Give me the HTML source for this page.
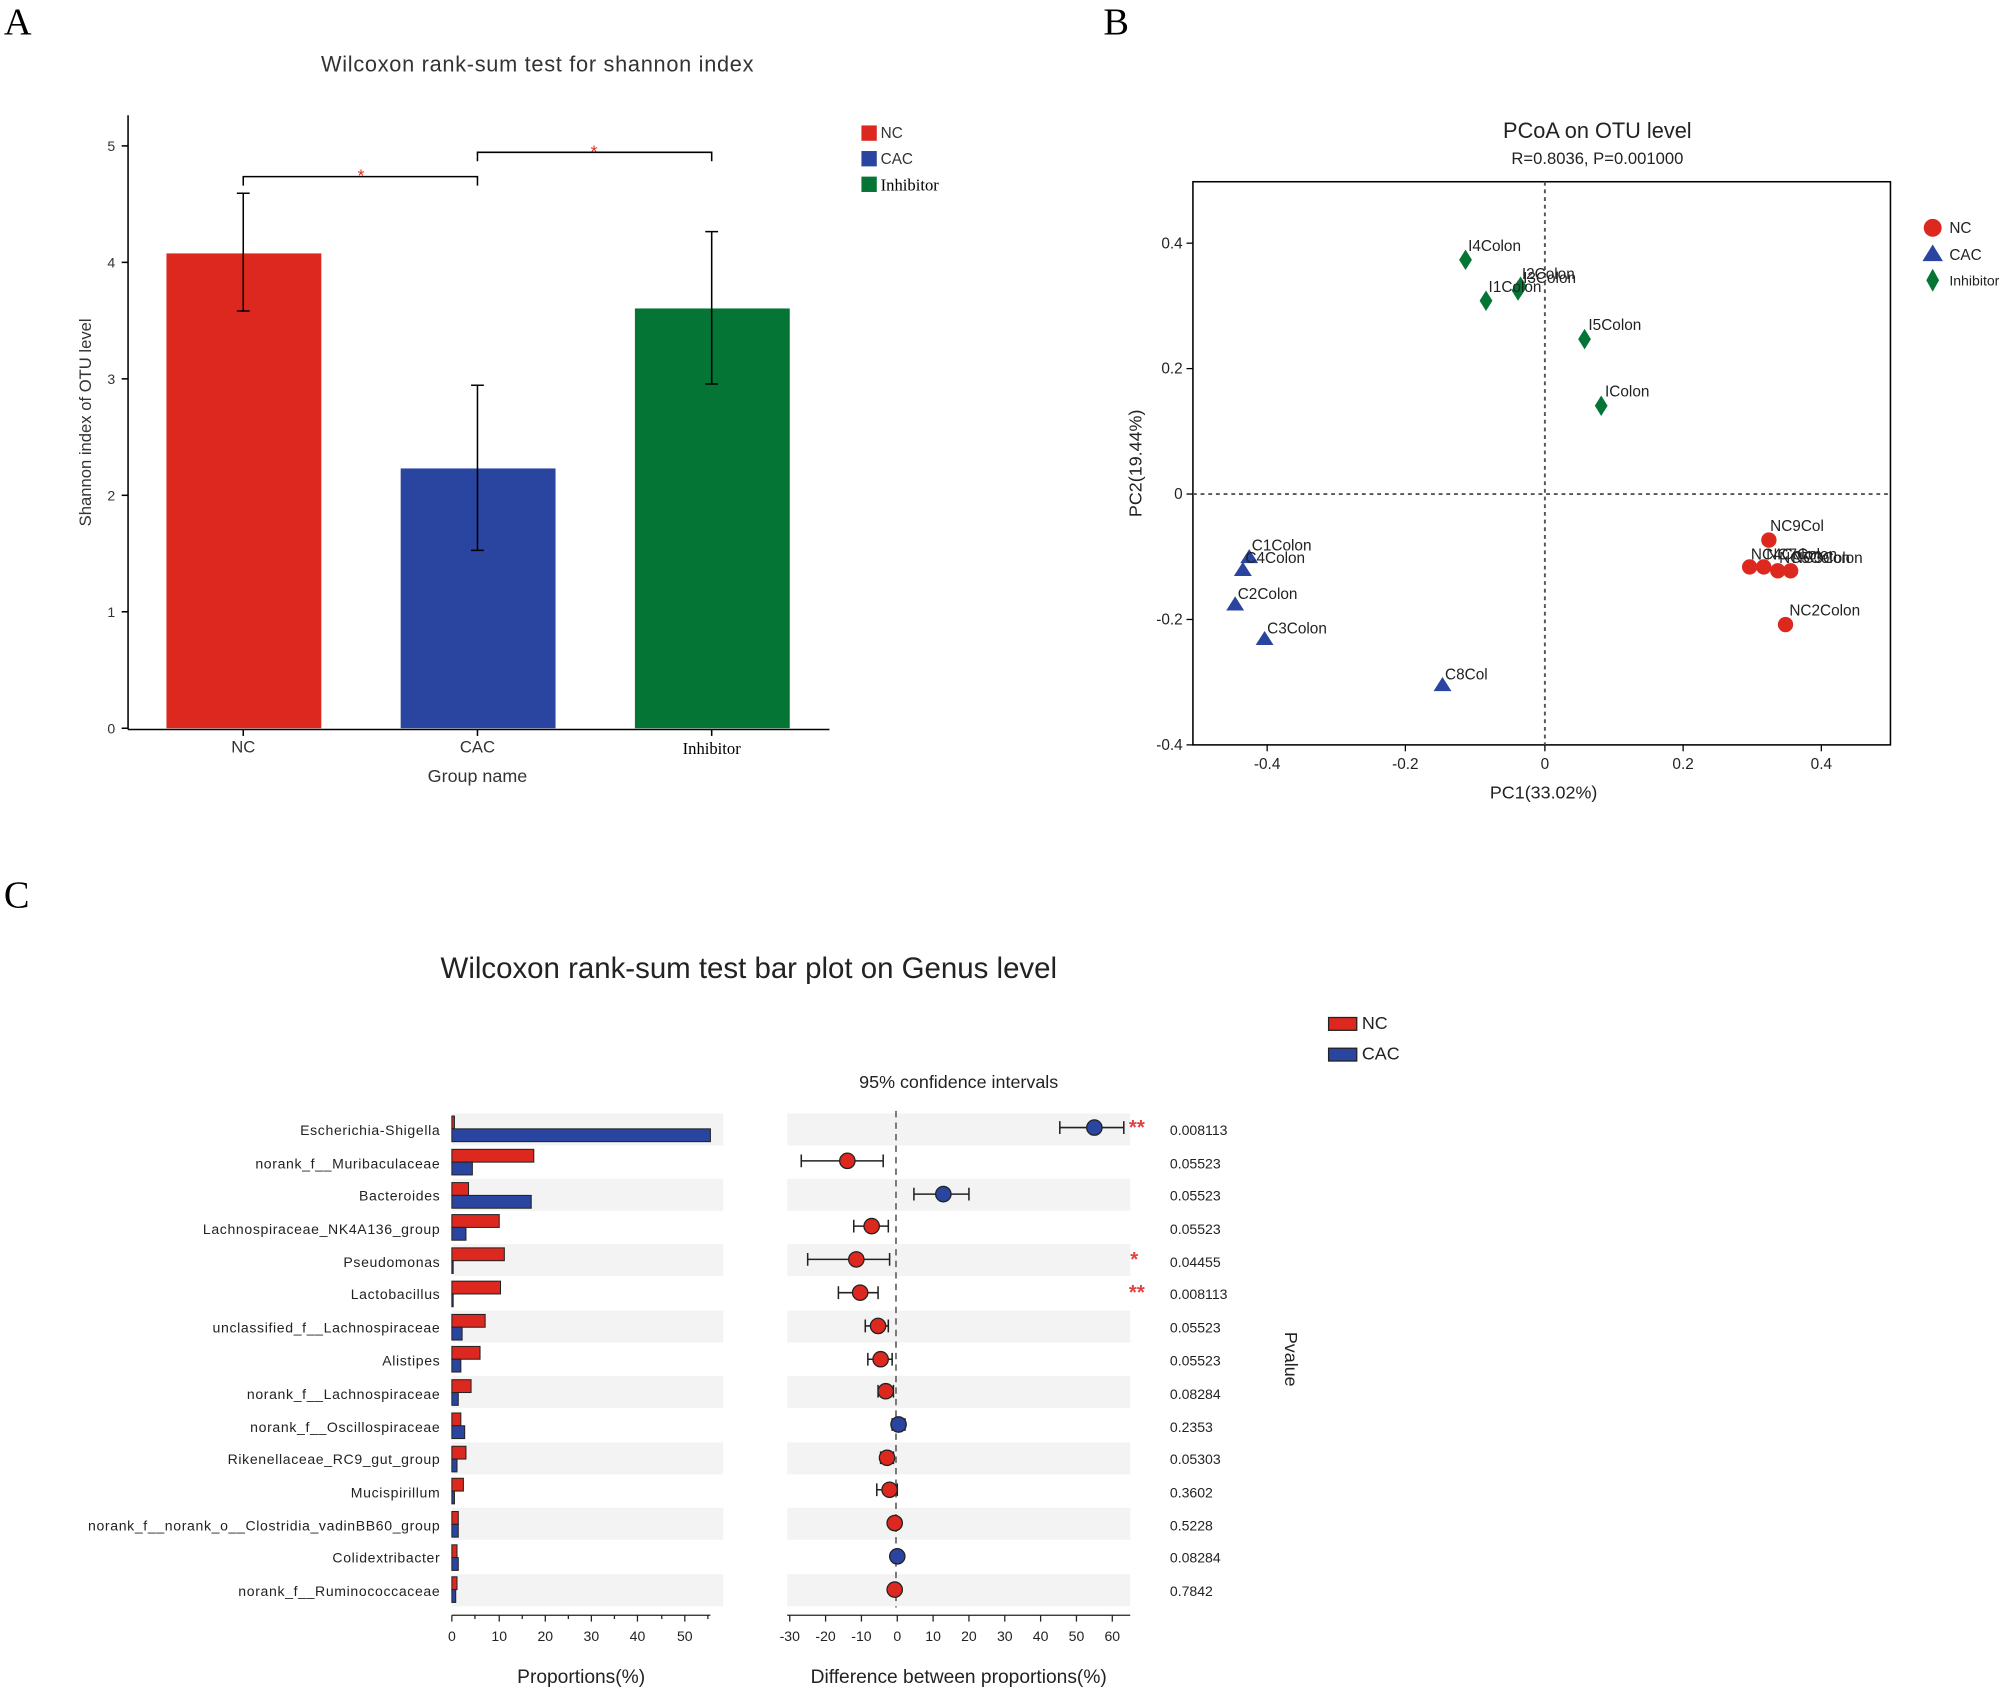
<!DOCTYPE html>
<html><head><meta charset="utf-8"><style>
html,body{margin:0;padding:0;background:#fff;}
svg{display:block;font-family:"Liberation Sans",Arial,sans-serif;}
</style></head><body>
<svg width="2007" height="1692" viewBox="0 0 1568 1322" xmlns="http://www.w3.org/2000/svg">
<rect width="1568" height="1322" fill="#fff"/>
<g font-family="Liberation Serif,serif" font-size="30" fill="#000">
<text x="3" y="27">A</text><text x="862" y="27">B</text><text x="3" y="709">C</text></g>

<!-- PANEL A -->
<text x="420" y="56" font-size="17" text-anchor="middle" fill="#333" letter-spacing="0.55">Wilcoxon rank-sum test for shannon index</text>
<rect x="130" y="198" width="121" height="371" fill="#dc281e"/>
<rect x="313" y="366" width="121" height="203" fill="#2a45a0"/>
<rect x="496" y="241" width="121" height="328" fill="#047535"/>
<g stroke="#000" stroke-width="1.2" fill="none">
<line x1="100" y1="90" x2="100" y2="570"/><line x1="100" y1="570" x2="648" y2="570"/>
<line x1="95" y1="569" x2="100" y2="569"/><line x1="95" y1="478" x2="100" y2="478"/><line x1="95" y1="387" x2="100" y2="387"/><line x1="95" y1="296" x2="100" y2="296"/><line x1="95" y1="205" x2="100" y2="205"/><line x1="95" y1="114" x2="100" y2="114"/>
<line x1="190" y1="570" x2="190" y2="575"/><line x1="373" y1="570" x2="373" y2="575"/><line x1="556" y1="570" x2="556" y2="575"/>
<path d="M190 151V243M185 151H195M185 243H195"/>
<path d="M373 301V430M368 301H378M368 430H378"/>
<path d="M556 181V300M551 181H561M551 300H561"/>
<path d="M190 145V138H373V145"/><path d="M373 126V119H556V126"/>
</g>
<g fill="#e03020" font-size="14" text-anchor="middle"><text x="282" y="142">*</text><text x="464" y="123">*</text></g>
<g font-size="11" fill="#333" text-anchor="end"><text x="90" y="573">0</text><text x="90" y="482">1</text><text x="90" y="391">2</text><text x="90" y="300">3</text><text x="90" y="209">4</text><text x="90" y="118">5</text></g>
<g font-size="13" fill="#333" text-anchor="middle"><text x="190" y="588">NC</text><text x="373" y="588">CAC</text><text x="556" y="589" font-family="Liberation Serif,serif" fill="#000">Inhibitor</text>
<text x="373" y="611" font-size="14">Group name</text></g>
<text transform="translate(71,330) rotate(-90)" font-size="13" text-anchor="middle" fill="#333">Shannon index of OTU level</text>
<rect x="673" y="98" width="12" height="12" fill="#dc281e"/><rect x="673" y="118" width="12" height="12" fill="#2a45a0"/><rect x="673" y="138" width="12" height="12" fill="#047535"/>
<g font-size="12" fill="#333"><text x="688" y="108">NC</text><text x="688" y="128">CAC</text><text x="688" y="149" font-family="Liberation Serif,serif" font-size="13" fill="#000">Inhibitor</text></g>

<!-- PANEL B -->
<text x="1248" y="108" font-size="17" text-anchor="middle" fill="#222">PCoA on OTU level</text>
<text x="1248" y="128" font-size="13" text-anchor="middle" fill="#222">R=0.8036, P=0.001000</text>
<rect x="932" y="142" width="545" height="440" fill="none" stroke="#000" stroke-width="1.2"/>
<g stroke="#555" stroke-width="1.5" stroke-dasharray="3,3"><line x1="1207" y1="142" x2="1207" y2="582"/><line x1="932" y1="386" x2="1477" y2="386"/></g>
<g stroke="#000" stroke-width="1"><line x1="990" y1="582" x2="990" y2="587"/><line x1="1098" y1="582" x2="1098" y2="587"/><line x1="1207" y1="582" x2="1207" y2="587"/><line x1="1315" y1="582" x2="1315" y2="587"/><line x1="1423" y1="582" x2="1423" y2="587"/>
<line x1="927" y1="190" x2="932" y2="190"/><line x1="927" y1="288" x2="932" y2="288"/><line x1="927" y1="386" x2="932" y2="386"/><line x1="927" y1="484" x2="932" y2="484"/><line x1="927" y1="582" x2="932" y2="582"/></g>
<g font-size="12" fill="#222" text-anchor="middle"><text x="990" y="601">-0.4</text><text x="1098" y="601">-0.2</text><text x="1207" y="601">0</text><text x="1315" y="601">0.2</text><text x="1423" y="601">0.4</text></g>
<g font-size="12" fill="#222" text-anchor="end"><text x="924" y="194">0.4</text><text x="924" y="292">0.2</text><text x="924" y="390">0</text><text x="924" y="488">-0.2</text><text x="924" y="586">-0.4</text></g>
<text x="1206" y="624" font-size="14" text-anchor="middle" fill="#222">PC1(33.02%)</text>
<text transform="translate(892,362) rotate(-90)" font-size="14" text-anchor="middle" fill="#222">PC2(19.44%)</text>
<g fill="#047535">
<path d="M1145 195l5 8l-5 8l-5-8z"/><path d="M1161 227l5 8l-5 8l-5-8z"/><path d="M1186 219l5 8l-5 8l-5-8z"/><path d="M1188 216l5 8l-5 8l-5-8z"/><path d="M1238 257l5 8l-5 8l-5-8z"/><path d="M1251 309l5 8l-5 8l-5-8z"/></g>
<g fill="#2a45a0">
<path d="M976 429l7 11h-14z"/><path d="M971 439l7 11h-14z"/><path d="M965 466l7 11h-14z"/><path d="M988 493l7 11h-14z"/><path d="M1127 529l7 11h-14z"/></g>
<g fill="#dc281e">
<circle cx="1382" cy="422" r="6"/><circle cx="1367" cy="443" r="6"/><circle cx="1378" cy="443" r="6"/><circle cx="1389" cy="446" r="6"/><circle cx="1399" cy="446" r="6"/><circle cx="1395" cy="488" r="6"/></g>
<g font-size="12" fill="#222">
<text x="1147" y="196">I4Colon</text><text x="1163" y="228">I1Colon</text><text x="1189" y="218">I2Colon</text><text x="1190" y="221">I3Colon</text><text x="1241" y="258">I5Colon</text><text x="1254" y="310">IColon</text>
<text x="978" y="430">C1Colon</text><text x="973" y="440">C4Colon</text><text x="967" y="468">C2Colon</text><text x="990" y="495">C3Colon</text><text x="1129" y="531">C8Col</text>
<text x="1383" y="415">NC9Col</text><text x="1368" y="437">NC4Colon</text><text x="1380" y="437">NC7Colon</text><text x="1390" y="440">NC5Colon</text><text x="1400" y="440">NC3Colon</text><text x="1398" y="481">NC2Colon</text></g>
<circle cx="1510" cy="178" r="7" fill="#dc281e"/><path d="M1510 191l8 13h-16z" fill="#2a45a0"/><path d="M1510 210l5 9l-5 9l-5-9z" fill="#047535"/>
<g font-size="12" fill="#222"><text x="1523" y="182">NC</text><text x="1523" y="203">CAC</text><text x="1523" y="223" font-size="11">Inhibitor</text></g>

<!-- PANEL C -->
<text x="585" y="764" font-size="23" text-anchor="middle" fill="#222">Wilcoxon rank-sum test bar plot on Genus level</text>
<rect x="1038" y="795" width="22" height="10" fill="#dc281e" stroke="#222" stroke-width="1"/><rect x="1038" y="819" width="22" height="10" fill="#2a45a0" stroke="#222" stroke-width="1"/>
<g font-size="14" fill="#222"><text x="1064" y="804">NC</text><text x="1064" y="828">CAC</text></g>
<text x="749" y="850" font-size="14" text-anchor="middle" fill="#222">95% confidence intervals</text>
<g fill="#f3f3f3">
<rect x="353" y="870" width="212" height="25"/><rect x="615" y="870" width="268" height="25"/>
<rect x="353" y="921" width="212" height="25"/><rect x="615" y="921" width="268" height="25"/>
<rect x="353" y="972" width="212" height="25"/><rect x="615" y="972" width="268" height="25"/>
<rect x="353" y="1024" width="212" height="25"/><rect x="615" y="1024" width="268" height="25"/>
<rect x="353" y="1075" width="212" height="25"/><rect x="615" y="1075" width="268" height="25"/>
<rect x="353" y="1127" width="212" height="25"/><rect x="615" y="1127" width="268" height="25"/>
<rect x="353" y="1178" width="212" height="25"/><rect x="615" y="1178" width="268" height="25"/>
<rect x="353" y="1230" width="212" height="25"/><rect x="615" y="1230" width="268" height="25"/></g>
<line x1="700" y1="868" x2="700" y2="1256" stroke="#777" stroke-width="1.5" stroke-dasharray="5,4"/>
<g font-size="11" fill="#222" text-anchor="end" letter-spacing="0.5">
<text x="344" y="887">Escherichia-Shigella</text><text x="344" y="913">norank_f__Muribaculaceae</text><text x="344" y="938">Bacteroides</text><text x="344" y="964">Lachnospiraceae_NK4A136_group</text><text x="344" y="990">Pseudomonas</text><text x="344" y="1015">Lactobacillus</text><text x="344" y="1041">unclassified_f__Lachnospiraceae</text><text x="344" y="1067">Alistipes</text><text x="344" y="1093">norank_f__Lachnospiraceae</text><text x="344" y="1119">norank_f__Oscillospiraceae</text><text x="344" y="1144">Rikenellaceae_RC9_gut_group</text><text x="344" y="1170">Mucispirillum</text><text x="344" y="1196">norank_f__norank_o__Clostridia_vadinBB60_group</text><text x="344" y="1221">Colidextribacter</text><text x="344" y="1247">norank_f__Ruminococcaceae</text></g>
<g font-size="11" fill="#222">
<text x="914" y="887">0.008113</text><text x="914" y="913">0.05523</text><text x="914" y="938">0.05523</text><text x="914" y="964">0.05523</text><text x="914" y="990">0.04455</text><text x="914" y="1015">0.008113</text><text x="914" y="1041">0.05523</text><text x="914" y="1067">0.05523</text><text x="914" y="1093">0.08284</text><text x="914" y="1119">0.2353</text><text x="914" y="1144">0.05303</text><text x="914" y="1170">0.3602</text><text x="914" y="1196">0.5228</text><text x="914" y="1221">0.08284</text><text x="914" y="1247">0.7842</text></g>
<text transform="translate(1004,1062) rotate(90)" font-size="14" text-anchor="middle" fill="#222">Pvalue</text>
<g stroke="#222" stroke-width="0.8">
<g fill="#dc281e">
<rect x="353" y="872" width="2" height="10"/><rect x="353" y="898" width="64" height="10"/><rect x="353" y="924" width="13" height="10"/><rect x="353" y="949" width="37" height="10"/><rect x="353" y="975" width="41" height="10"/><rect x="353" y="1001" width="38" height="10"/><rect x="353" y="1027" width="26" height="10"/><rect x="353" y="1052" width="22" height="10"/><rect x="353" y="1078" width="15" height="10"/><rect x="353" y="1104" width="7" height="10"/><rect x="353" y="1130" width="11" height="10"/><rect x="353" y="1155" width="9" height="10"/><rect x="353" y="1181" width="5" height="10"/><rect x="353" y="1207" width="4" height="10"/><rect x="353" y="1232" width="4" height="10"/></g>
<g fill="#2a45a0">
<rect x="353" y="882" width="202" height="10"/><rect x="353" y="908" width="16" height="10"/><rect x="353" y="934" width="62" height="10"/><rect x="353" y="959" width="11" height="10"/><rect x="353" y="985" width="1" height="10"/><rect x="353" y="1011" width="1" height="10"/><rect x="353" y="1037" width="8" height="10"/><rect x="353" y="1062" width="7" height="10"/><rect x="353" y="1088" width="5" height="10"/><rect x="353" y="1114" width="10" height="10"/><rect x="353" y="1140" width="4" height="10"/><rect x="353" y="1165" width="2" height="10"/><rect x="353" y="1191" width="5" height="10"/><rect x="353" y="1217" width="5" height="10"/><rect x="353" y="1242" width="3" height="10"/></g></g>
<g stroke="#222" stroke-width="1.2" fill="none">
<path d="M828 881H878M828 876V886M878 876V886"/><path d="M626 907H690M626 902V912M690 902V912"/><path d="M714 933H757M714 928V938M757 928V938"/><path d="M667 958H694M667 953V963M694 953V963"/><path d="M631 984H695M631 979V989M695 979V989"/><path d="M655 1010H686M655 1005V1015M686 1005V1015"/><path d="M676 1036H694M676 1031V1041M694 1031V1041"/><path d="M678 1062H697M678 1057V1067M697 1057V1067"/><path d="M686 1087H698M686 1082V1092M698 1082V1092"/><path d="M697 1113H707M697 1108V1118M707 1108V1118"/><path d="M688 1139H698M688 1134V1144M698 1134V1144"/><path d="M685 1164H701M685 1159V1169M701 1159V1169"/><path d="M695 1190H703"/><path d="M697 1216H705"/><path d="M695 1242H703"/></g>
<g stroke="#222" stroke-width="1">
<circle cx="855" cy="881" r="6" fill="#2a45a0"/><circle cx="662" cy="907" r="6" fill="#dc281e"/><circle cx="737" cy="933" r="6" fill="#2a45a0"/><circle cx="681" cy="958" r="6" fill="#dc281e"/><circle cx="669" cy="984" r="6" fill="#dc281e"/><circle cx="672" cy="1010" r="6" fill="#dc281e"/><circle cx="686" cy="1036" r="6" fill="#dc281e"/><circle cx="688" cy="1062" r="6" fill="#dc281e"/><circle cx="692" cy="1087" r="6" fill="#dc281e"/><circle cx="702" cy="1113" r="6" fill="#2a45a0"/><circle cx="693" cy="1139" r="6" fill="#dc281e"/><circle cx="695" cy="1164" r="6" fill="#dc281e"/><circle cx="699" cy="1190" r="6" fill="#dc281e"/><circle cx="701" cy="1216" r="6" fill="#2a45a0"/><circle cx="699" cy="1242" r="6" fill="#dc281e"/></g>
<g fill="#e04040" font-size="16" font-weight="bold"><text x="882" y="886">**</text><text x="883" y="989">*</text><text x="882" y="1015">**</text></g>
<g stroke="#222" stroke-width="1">
<line x1="353" y1="1262" x2="555" y2="1262"/>
<line x1="353" y1="1262" x2="353" y2="1267"/><line x1="371" y1="1262" x2="371" y2="1265"/><line x1="390" y1="1262" x2="390" y2="1267"/><line x1="408" y1="1262" x2="408" y2="1265"/><line x1="426" y1="1262" x2="426" y2="1267"/><line x1="444" y1="1262" x2="444" y2="1265"/><line x1="462" y1="1262" x2="462" y2="1267"/><line x1="480" y1="1262" x2="480" y2="1265"/><line x1="498" y1="1262" x2="498" y2="1267"/><line x1="517" y1="1262" x2="517" y2="1265"/><line x1="535" y1="1262" x2="535" y2="1267"/><line x1="553" y1="1262" x2="553" y2="1265"/>
<line x1="615" y1="1262" x2="883" y2="1262"/>
<line x1="617" y1="1262" x2="617" y2="1267"/><line x1="645" y1="1262" x2="645" y2="1267"/><line x1="673" y1="1262" x2="673" y2="1267"/><line x1="701" y1="1262" x2="701" y2="1267"/><line x1="729" y1="1262" x2="729" y2="1267"/><line x1="757" y1="1262" x2="757" y2="1267"/><line x1="785" y1="1262" x2="785" y2="1267"/><line x1="813" y1="1262" x2="813" y2="1267"/><line x1="841" y1="1262" x2="841" y2="1267"/><line x1="869" y1="1262" x2="869" y2="1267"/></g>
<g font-size="11" fill="#222" text-anchor="middle">
<text x="353" y="1282">0</text><text x="390" y="1282">10</text><text x="426" y="1282">20</text><text x="462" y="1282">30</text><text x="498" y="1282">40</text><text x="535" y="1282">50</text>
<text x="617" y="1282">-30</text><text x="645" y="1282">-20</text><text x="673" y="1282">-10</text><text x="701" y="1282">0</text><text x="729" y="1282">10</text><text x="757" y="1282">20</text><text x="785" y="1282">30</text><text x="813" y="1282">40</text><text x="841" y="1282">50</text><text x="869" y="1282">60</text></g>
<g font-size="15" fill="#222" text-anchor="middle"><text x="454" y="1315">Proportions(%)</text><text x="749" y="1315">Difference between proportions(%)</text></g>
</svg>
</body></html>
